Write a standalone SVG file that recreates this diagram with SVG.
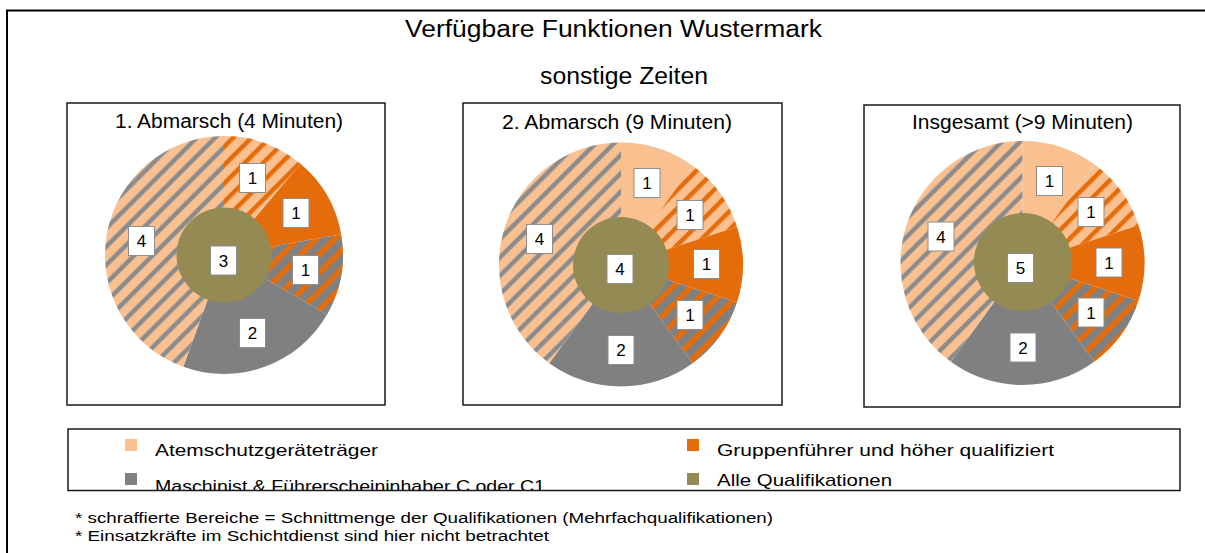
<svg xmlns="http://www.w3.org/2000/svg" width="1205" height="553" viewBox="0 0 1205 553">
<style>
text{font-family:"Liberation Sans",Arial,sans-serif;fill:#000}
.frame{fill:none;stroke:#000;stroke-width:2}
.box{fill:#fff;stroke:#1a1a1a;stroke-width:1.5}
.lbl rect{fill:#fff;stroke:#8c8c8c;stroke-width:1}
.lbl text{font-size:17px;text-anchor:middle}
.ttl{font-size:20px}
.main{font-size:23px}
.leg{font-size:17px}
.note{font-size:14px}
.peach{fill:#FAC090}
.orange{fill:#E46C0A}
.gray{fill:#808080}
.olive{fill:#948A54}
.hpo{fill:url(#hPO)}
.hgo{fill:url(#hGO)}
.hpg{fill:url(#hPG)}
</style>
<defs>
<pattern id="hPO" patternUnits="userSpaceOnUse" width="13" height="13" patternTransform="rotate(45)">
<rect width="13" height="13" fill="#FAC090"/>
<rect x="0" y="0" width="4.5" height="13" fill="#E46C0A"/>
</pattern>
<pattern id="hGO" patternUnits="userSpaceOnUse" width="13" height="13" patternTransform="rotate(45)">
<rect width="13" height="13" fill="#808080"/>
<rect x="0" y="0" width="5.5" height="13" fill="#E46C0A"/>
</pattern>
<pattern id="hPG" patternUnits="userSpaceOnUse" width="13" height="13" patternTransform="rotate(45)">
<rect width="13" height="13" fill="#FAC090"/>
<rect x="0" y="0" width="5" height="13" fill="#A89C94"/>
<rect x="1" y="0" width="3" height="13" fill="#8a8a8a"/>
</pattern>
<clipPath id="legclip"><rect x="0" y="0" width="1205" height="490"/></clipPath>
</defs>
<rect width="1205" height="553" fill="#fff"/>
<rect class="frame" x="7" y="10.5" width="1300" height="600"/>
<g id="title">
<text class="main" x="405" y="37" textLength="417" lengthAdjust="spacingAndGlyphs">Verfügbare Funktionen Wustermark</text>
<text class="main" x="540" y="84" textLength="168" lengthAdjust="spacingAndGlyphs">sonstige Zeiten</text>
</g>
<g id="chart1">
<rect class="box" x="67" y="103" width="318" height="302"/>
<text class="ttl" x="115" y="128" textLength="228" lengthAdjust="spacingAndGlyphs">1. Abmarsch (4 Minuten)</text>
<path class="hpo" d="M224,255 L224,136 A119,119 0 0 1 300.49,163.84 Z"/>
<path class="orange" d="M224,255 L300.49,163.84 A119,119 0 0 1 341.19,234.34 Z"/>
<path class="hgo" d="M224,255 L341.19,234.34 A119,119 0 0 1 327.06,314.5 Z"/>
<path class="gray" d="M224,255 L327.06,314.5 A119,119 0 0 1 183.30,366.82 Z"/>
<path class="hpg" d="M224,255 L183.30,366.82 A119,119 0 0 1 224,136 Z"/>
<circle class="olive" cx="224" cy="255" r="47.5"/>
<g class="lbl">
<rect x="239.5" y="163.5" width="26" height="29"/><text x="252.5" y="184">1</text>
<rect x="283" y="198.5" width="26" height="29"/><text x="296" y="219">1</text>
<rect x="292.5" y="255.5" width="26" height="29"/><text x="305.5" y="276">1</text>
<rect x="239.5" y="318.5" width="26" height="29"/><text x="252.5" y="339">2</text>
<rect x="128.5" y="226.5" width="26" height="29"/><text x="141.5" y="247">4</text>
<rect x="210.5" y="246" width="26" height="29"/><text x="223.5" y="266.5">3</text>
</g>
</g>
<g id="chart2">
<rect class="box" x="463" y="103" width="319" height="302"/>
<text class="ttl" x="502" y="129" textLength="230" lengthAdjust="spacingAndGlyphs">2. Abmarsch (9 Minuten)</text>
<path class="peach" d="M621,264.5 L621,142.5 A122,122 0 0 1 692.71,165.80 Z"/>
<path class="hpo" d="M621,264.5 L692.71,165.80 A122,122 0 0 1 737.03,226.80 Z"/>
<path class="orange" d="M621,264.5 L737.03,226.80 A122,122 0 0 1 737.03,302.20 Z"/>
<path class="hgo" d="M621,264.5 L737.03,302.20 A122,122 0 0 1 692.71,363.20 Z"/>
<path class="gray" d="M621,264.5 L692.71,363.20 A122,122 0 0 1 549.29,363.20 Z"/>
<path class="hpg" d="M621,264.5 L549.29,363.20 A122,122 0 0 1 621,142.5 Z"/>
<circle class="olive" cx="621" cy="265" r="48"/>
<g class="lbl">
<rect x="634" y="168.5" width="26" height="29"/><text x="647" y="189">1</text>
<rect x="677" y="200.5" width="26" height="29"/><text x="690" y="221">1</text>
<rect x="693.5" y="249.5" width="26" height="29"/><text x="706.5" y="270">1</text>
<rect x="677" y="300.5" width="26" height="29"/><text x="690" y="321">1</text>
<rect x="608" y="335.5" width="26" height="29"/><text x="621" y="356">2</text>
<rect x="526.5" y="224.5" width="26" height="29"/><text x="539.5" y="245">4</text>
<rect x="607" y="254.5" width="26" height="29"/><text x="620" y="275">4</text>
</g>
</g>
<g id="chart3">
<rect class="box" x="864" y="105" width="316" height="302"/>
<text class="ttl" x="912" y="129" textLength="221" lengthAdjust="spacingAndGlyphs">Insgesamt (&gt;9 Minuten)</text>
<path class="peach" d="M1022.5,263 L1022.5,141 A122,122 0 0 1 1094.21,164.30 Z"/>
<path class="hpo" d="M1022.5,263 L1094.21,164.30 A122,122 0 0 1 1138.53,225.30 Z"/>
<path class="orange" d="M1022.5,263 L1138.53,225.30 A122,122 0 0 1 1138.53,300.70 Z"/>
<path class="hgo" d="M1022.5,263 L1138.53,300.70 A122,122 0 0 1 1094.21,361.70 Z"/>
<path class="gray" d="M1022.5,263 L1094.21,361.70 A122,122 0 0 1 950.79,361.70 Z"/>
<path class="hpg" d="M1022.5,263 L950.79,361.70 A122,122 0 0 1 1022.5,141 Z"/>
<circle class="olive" cx="1023" cy="262" r="49"/>
<g class="lbl">
<rect x="1036.5" y="166.5" width="26" height="29"/><text x="1049.5" y="187">1</text>
<rect x="1078" y="197.5" width="26" height="29"/><text x="1091" y="218">1</text>
<rect x="1096" y="248" width="26" height="29"/><text x="1109" y="268.5">1</text>
<rect x="1078" y="298" width="26" height="29"/><text x="1091" y="318.5">1</text>
<rect x="1010" y="333" width="26" height="29"/><text x="1023" y="353.5">2</text>
<rect x="928" y="222" width="26" height="29"/><text x="941" y="242.5">4</text>
<rect x="1007.5" y="253.5" width="26" height="29"/><text x="1020.5" y="274">5</text>
</g>
</g>
<g id="legend">
<rect class="box" x="68" y="429" width="1112" height="61.5"/>
<rect class="peach" x="125" y="439" width="12" height="12"/>
<text class="leg" x="155" y="456" textLength="223" lengthAdjust="spacingAndGlyphs">Atemschutzgeräteträger</text>
<rect class="gray" x="125" y="473" width="12" height="12"/>
<g clip-path="url(#legclip)">
<text class="leg" x="155" y="492" textLength="390" lengthAdjust="spacingAndGlyphs">Maschinist &amp; Führerscheininhaber  C oder C1</text>
</g>
<rect class="orange" x="687" y="439" width="12" height="12"/>
<text class="leg" x="717" y="456" textLength="337" lengthAdjust="spacingAndGlyphs">Gruppenführer  und höher qualifiziert</text>
<rect class="olive" x="687" y="473" width="12" height="12"/>
<text class="leg" x="717" y="486" textLength="175" lengthAdjust="spacingAndGlyphs">Alle Qualifikationen</text>
</g>
<g id="notes">
<text class="note" x="75" y="523" textLength="698" lengthAdjust="spacingAndGlyphs">* schraffierte Bereiche = Schnittmenge der Qualifikationen (Mehrfachqualifikationen)</text>
<text class="note" x="75" y="541" textLength="474" lengthAdjust="spacingAndGlyphs">* Einsatzkräfte im Schichtdienst sind hier nicht betrachtet</text>
</g>
</svg>
